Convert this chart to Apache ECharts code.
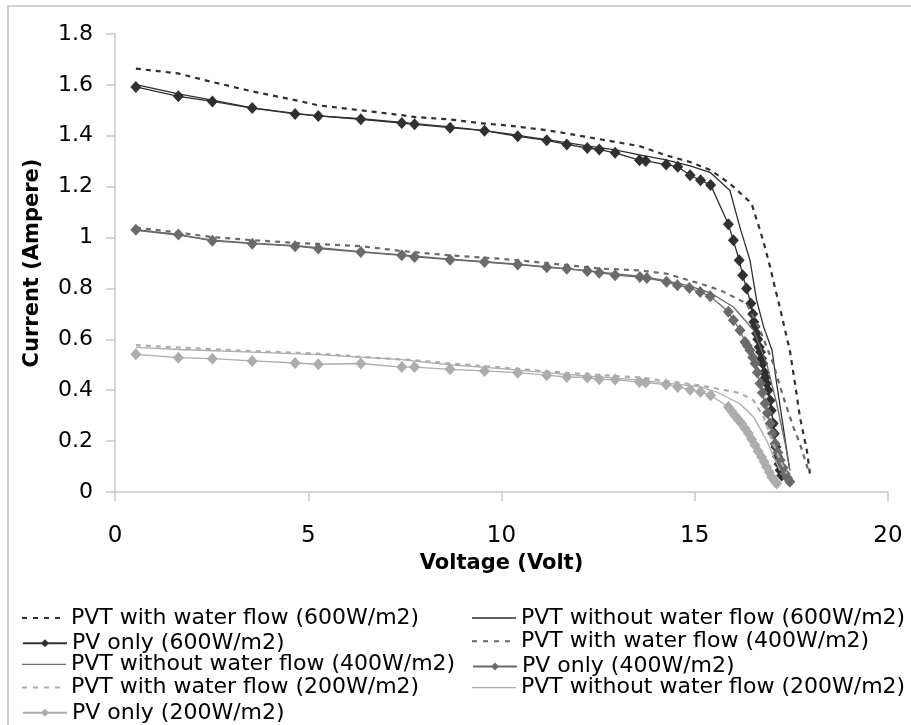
<!DOCTYPE html>
<html>
<head>
<meta charset="utf-8">
<script src="https://cdn.jsdelivr.net/npm/echarts@6/dist/echarts.min.js"></script>
<style>html,body{margin:0;padding:0;background:#fff;}#c{width:911px;height:725px;}</style>
</head>
<body>
<div id="c"></div>
<script>
// ---- data (Voltage [V], Current [A]) ----
const seriesNames = [
  'PVT with water flow (600W/m2)',
  'PVT without water flow (600W/m2)',
  'PV only (600W/m2)',
  'PVT with water flow (400W/m2)',
  'PVT without water flow (400W/m2)',
  'PV only (400W/m2)',
  'PVT with water flow (200W/m2)',
  'PVT without water flow (200W/m2)',
  'PV only (200W/m2)'
];
const xTicks = [0, 5, 10, 15, 20];
const yTicks = [0, 0.2, 0.4, 0.6, 0.8, 1, 1.2, 1.4, 1.6, 1.8];

const pvtWater600 = [[0.54,1.664],[1.63,1.645],[2.5,1.612],[3.54,1.575],[4.66,1.54],[5.25,1.52],[6.36,1.50],[7.42,1.481],[7.74,1.474],[8.67,1.464],[9.56,1.448],[10.13,1.441],[11.17,1.422],[11.69,1.409],[12.22,1.395],[12.94,1.376],[13.58,1.359],[14.26,1.323],[14.88,1.297],[15.41,1.265],[15.91,1.212],[16.47,1.134],[16.58,1.08],[16.69,1.029],[16.82,0.96],[16.95,0.884],[17.08,0.80],[17.2,0.727],[17.33,0.64],[17.46,0.557],[17.6,0.42],[17.72,0.295],[17.9,0.164],[17.98,0.072]];
const pvtNoWater600 = [[0.54,1.601],[1.64,1.565],[2.52,1.54],[3.55,1.51],[4.66,1.488],[5.26,1.478],[6.36,1.467],[7.42,1.453],[8.67,1.435],[9.56,1.42],[10.42,1.402],[11.17,1.385],[12.22,1.36],[12.94,1.345],[13.57,1.325],[14.26,1.305],[14.88,1.282],[15.41,1.255],[15.91,1.185],[16.17,1.04],[16.43,0.91],[16.6,0.754],[16.78,0.65],[17.0,0.557],[17.12,0.426],[17.25,0.295],[17.38,0.164],[17.46,0.085]];
const pvOnly600 = [[0.54,1.592],[1.64,1.555],[2.52,1.535],[3.55,1.509],[4.66,1.486],[5.26,1.478],[6.36,1.465],[7.42,1.45],[7.75,1.445],[8.67,1.432],[9.56,1.42],[10.42,1.398],[11.17,1.382],[11.69,1.366],[12.22,1.352],[12.53,1.346],[12.94,1.333],[13.57,1.304],[13.73,1.301],[14.26,1.287],[14.56,1.278],[14.88,1.245],[15.15,1.225],[15.41,1.207],[15.87,1.052],[16.0,0.989],[16.15,0.911],[16.24,0.852],[16.34,0.80],[16.45,0.741],[16.5,0.70],[16.53,0.668],[16.56,0.65],[16.6,0.623],[16.63,0.60],[16.67,0.57],[16.7,0.55],[16.73,0.525],[16.76,0.505],[16.8,0.47],[16.83,0.45],[16.86,0.426],[16.9,0.40],[16.95,0.36],[16.98,0.32],[17.03,0.269],[17.06,0.23],[17.1,0.177],[17.14,0.14],[17.18,0.11],[17.21,0.085],[17.25,0.065]];
const pvtWater400 = [[0.54,1.039],[1.63,1.02],[2.5,1.002],[3.54,0.99],[4.66,0.979],[5.25,0.975],[6.36,0.966],[7.42,0.947],[8.67,0.93],[9.96,0.917],[11.17,0.9],[12.55,0.878],[13.58,0.871],[14.27,0.858],[15.14,0.819],[15.66,0.793],[16.0,0.767],[16.34,0.741],[16.69,0.636],[17.03,0.505],[17.29,0.373],[17.55,0.256],[17.72,0.19],[17.94,0.085]];
const pvtNoWater400 = [[0.54,1.028],[1.64,1.01],[2.52,0.99],[3.55,0.978],[4.66,0.968],[5.26,0.96],[6.36,0.945],[7.42,0.932],[8.67,0.915],[9.56,0.905],[10.42,0.895],[11.69,0.878],[12.94,0.858],[13.73,0.845],[14.27,0.83],[14.86,0.81],[15.4,0.783],[16.0,0.727],[16.52,0.636],[16.86,0.505],[17.12,0.347],[17.34,0.19],[17.46,0.085]];
const pvOnly400 = [[0.54,1.031],[1.64,1.012],[2.52,0.987],[3.55,0.976],[4.66,0.966],[5.26,0.957],[6.36,0.943],[7.42,0.93],[7.75,0.924],[8.67,0.913],[9.56,0.904],[10.42,0.894],[11.17,0.883],[11.69,0.877],[12.22,0.869],[12.53,0.862],[12.94,0.852],[13.58,0.845],[13.76,0.841],[14.27,0.826],[14.55,0.813],[14.86,0.802],[15.14,0.786],[15.4,0.769],[15.87,0.708],[16.0,0.675],[16.17,0.636],[16.3,0.59],[16.36,0.575],[16.43,0.557],[16.5,0.53],[16.56,0.505],[16.62,0.47],[16.69,0.426],[16.75,0.39],[16.82,0.348],[16.88,0.31],[16.95,0.269],[17.01,0.23],[17.08,0.19],[17.15,0.155],[17.21,0.125],[17.28,0.095],[17.34,0.072],[17.4,0.055],[17.46,0.04]];
const pvtWater200 = [[0.54,0.577],[1.64,0.568],[3.54,0.554],[5.25,0.544],[6.36,0.531],[7.74,0.518],[8.67,0.505],[10.0,0.489],[11.69,0.468],[13.58,0.45],[14.27,0.436],[15.14,0.419],[16.17,0.389],[16.52,0.36],[16.78,0.295],[17.03,0.19],[17.21,0.125],[17.38,0.072]];
const pvtNoWater200 = [[0.54,0.568],[1.64,0.56],[3.55,0.55],[5.26,0.54],[7.42,0.52],[8.67,0.5],[10.0,0.485],[11.69,0.462],[13.58,0.44],[15.14,0.413],[15.57,0.393],[16.17,0.347],[16.52,0.295],[16.86,0.203],[17.08,0.125],[17.21,0.085]];
const pvOnly200 = [[0.54,0.541],[1.64,0.528],[2.52,0.524],[3.55,0.515],[4.66,0.507],[5.26,0.502],[6.36,0.505],[7.42,0.491],[7.75,0.491],[8.67,0.482],[9.56,0.476],[10.42,0.469],[11.17,0.459],[11.69,0.452],[12.22,0.45],[12.53,0.443],[12.94,0.442],[13.57,0.432],[13.73,0.43],[14.26,0.422],[14.56,0.413],[14.88,0.402],[15.15,0.393],[15.41,0.38],[15.87,0.334],[15.95,0.318],[16.04,0.301],[16.12,0.285],[16.21,0.269],[16.3,0.25],[16.39,0.23],[16.47,0.207],[16.56,0.184],[16.64,0.16],[16.73,0.138],[16.8,0.118],[16.86,0.098],[16.93,0.078],[16.99,0.059],[17.06,0.045],[17.12,0.033]];

const seriesData = [pvtWater600, pvtNoWater600, pvOnly600, pvtWater400, pvtNoWater400, pvOnly400, pvtWater200, pvtNoWater200, pvOnly200];

// ---- styles ----
const DARK = '#303030', MID = '#6a6a6a', LIGHT = '#acacac';
const styles = [
  {c: DARK, kind: 'dot'}, {c: DARK, kind: 'solid'}, {c: DARK, kind: 'marker'},
  {c: MID, kind: 'dot'}, {c: MID, kind: 'solid'}, {c: MID, kind: 'marker'},
  {c: LIGHT, kind: 'dot'}, {c: LIGHT, kind: 'solid'}, {c: LIGHT, kind: 'marker'}
];
const FONT = 'DejaVu Sans';
// icons with an (almost invisible) 44x14 bounding box so they scale 1:1
const BOX = 'M0 0h0.02v0.02H0zM43.98 13.98h0.02V14h-0.02z';
const DASH_ICON = 'path://' + BOX + 'M0 6h5v2H0zM11 6h5v2h-5zM22 6h5v2h-5zM33 6h5v2h-5z';
const LINE_ICON = 'path://' + BOX + 'M0 6.3h44v1.4H0z';

const series = seriesData.map((d, i) => {
  const st = styles[i];
  const s = {
    name: seriesNames[i],
    type: 'line',
    data: d,
    animation: false,
    z: 2 + i,
    lineStyle: {color: st.c, width: st.kind === 'dot' ? 2.2 : 1.3, type: st.kind === 'dot' ? [5, 5] : 'solid'},
    itemStyle: {color: st.c}
  };
  if (st.kind === 'marker') {
    s.symbol = 'diamond';
    s.symbolSize = [11, 12];
    s.showSymbol = true;
  } else {
    s.symbol = 'none';
    s.showSymbol = false;
  }
  return s;
});

const legends = seriesNames.map((n, i) => {
  const row = Math.floor(i / 2), col = i % 2;
  const st = styles[i];
  const rowCenter = 616 + row * 23.2;
  let item, ih;
  if (st.kind === 'marker') { item = {name: n}; ih = 10; }
  else if (st.kind === 'dot') { item = {name: n, icon: DASH_ICON, itemStyle: {color: st.c}}; ih = 14; }
  else { item = {name: n, icon: LINE_ICON, itemStyle: {color: st.c}}; ih = 14; }
  return {
    data: [item],
    left: col === 0 ? 22 : 472,
    top: rowCenter - ih / 2 - 2,
    padding: 0,
    itemGap: 0,
    itemWidth: 44,
    itemHeight: ih,
    selectedMode: false,
    textStyle: {fontFamily: FONT, fontSize: 22, color: '#000', lineHeight: 22}
  };
});

const chart = echarts.init(document.getElementById('c'), null, {renderer: 'canvas'});
chart.setOption({
  backgroundColor: '#fff',
  animation: false,
  grid: {left: 115, right: 23, top: 34, bottom: 233, containLabel: false},
  graphic: [{
    type: 'rect', silent: true, z: -10,
    shape: {x: 8, y: 6, width: 1000, height: 1000},
    style: {fill: 'none', stroke: '#c4c4c4', lineWidth: 1.5}
  }],
  xAxis: {
    type: 'value', min: xTicks[0], max: xTicks[xTicks.length - 1], interval: xTicks[1] - xTicks[0],
    name: 'Voltage (Volt)', nameLocation: 'middle', nameGap: 56,
    nameTextStyle: {fontFamily: FONT, fontSize: 21, fontWeight: 'bold', color: '#000', verticalAlign: 'top'},
    axisLine: {show: true, lineStyle: {color: '#c8c8c8', width: 1.5}},
    axisTick: {show: true, length: 9, lineStyle: {color: '#c8c8c8', width: 1.5}},
    axisLabel: {fontFamily: FONT, fontSize: 23, color: '#000', margin: 33},
    splitLine: {show: false}
  },
  yAxis: {
    type: 'value', min: yTicks[0], max: yTicks[yTicks.length - 1], interval: yTicks[1] - yTicks[0],
    name: 'Current (Ampere)', nameLocation: 'middle', nameGap: 72,
    nameTextStyle: {fontFamily: FONT, fontSize: 21, fontWeight: 'bold', color: '#000'},
    axisLine: {show: true, lineStyle: {color: '#c8c8c8', width: 1.5}},
    axisTick: {show: true, length: 9, lineStyle: {color: '#c8c8c8', width: 1.5}},
    axisLabel: {fontFamily: FONT, fontSize: 22, color: '#000', margin: 22,
      formatter: v => String(Math.round(v * 10) / 10)},
    splitLine: {show: false}
  },
  legend: legends,
  series: series
});
</script>
</body>
</html>
